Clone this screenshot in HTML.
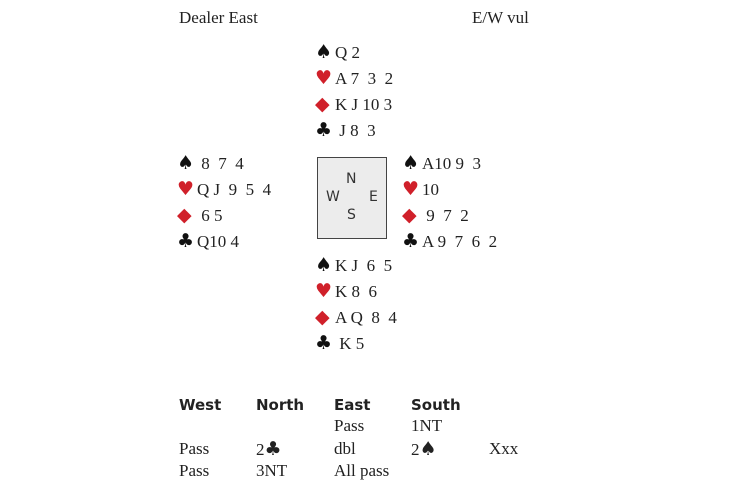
<!DOCTYPE html>
<html><head><meta charset="utf-8"><style>
body{margin:0;width:730px;height:486px;background:#fff;position:relative;font-family:"Liberation Serif",serif;font-size:17px;color:#222;overflow:hidden}
.t{position:absolute;line-height:20px;white-space:pre}
.s{display:inline-block;width:20px;font-family:"DejaVu Sans",sans-serif;font-size:19px;line-height:20px;color:#111}
.r{color:#d0202a}
.b{font-family:"DejaVu Sans",sans-serif;font-weight:bold;font-size:15px}
.box{position:absolute;left:317px;top:157px;width:68px;height:80px;background:#ececec;border:1px solid #444}
.c{position:absolute;font-family:"DejaVu Sans",sans-serif;font-size:14px;color:#333}
</style></head><body>
<div class="t" style="left:179px;top:8px">Dealer East</div>
<div class="t" style="left:472px;top:8px">E/W vul</div>

<div class="t" style="left:315px;top:42px"><span class="s">♠</span>Q 2</div>
<div class="t" style="left:315px;top:68px"><span class="s r">♥</span>A 7  3  2</div>
<div class="t" style="left:315px;top:94px"><span class="s r">◆</span>K J 10 3</div>
<div class="t" style="left:315px;top:120px"><span class="s">♣</span> J 8  3</div>

<div class="t" style="left:177px;top:153px"><span class="s">♠</span> 8  7  4</div>
<div class="t" style="left:177px;top:179px"><span class="s r">♥</span>Q J  9  5  4</div>
<div class="t" style="left:177px;top:205px"><span class="s r">◆</span> 6 5</div>
<div class="t" style="left:177px;top:231px"><span class="s">♣</span>Q10 4</div>

<div class="box"></div>
<div class="c" style="left:346px;top:171px">N</div>
<div class="c" style="left:326px;top:189px">W</div>
<div class="c" style="left:369px;top:189px">E</div>
<div class="c" style="left:347px;top:207px">S</div>

<div class="t" style="left:402px;top:153px"><span class="s">♠</span>A10 9  3</div>
<div class="t" style="left:402px;top:179px"><span class="s r">♥</span>10</div>
<div class="t" style="left:402px;top:205px"><span class="s r">◆</span> 9  7  2</div>
<div class="t" style="left:402px;top:231px"><span class="s">♣</span>A 9  7  6  2</div>

<div class="t" style="left:315px;top:255px"><span class="s">♠</span>K J  6  5</div>
<div class="t" style="left:315px;top:281px"><span class="s r">♥</span>K 8  6</div>
<div class="t" style="left:315px;top:307px"><span class="s r">◆</span>A Q  8  4</div>
<div class="t" style="left:315px;top:333px"><span class="s">♣</span> K 5</div>

<div class="t b" style="left:179px;top:395px">West</div>
<div class="t b" style="left:256px;top:395px">North</div>
<div class="t b" style="left:334px;top:395px">East</div>
<div class="t b" style="left:411px;top:395px">South</div>
<div class="t" style="left:334px;top:416px">Pass</div>
<div class="t" style="left:411px;top:416px">1NT</div>
<div class="t" style="left:179px;top:439px">Pass</div>
<div class="t" style="left:256px;top:439px">2<span style="font-family:'DejaVu Sans',sans-serif;font-size:19px">♣</span></div>
<div class="t" style="left:334px;top:439px">dbl</div>
<div class="t" style="left:411px;top:439px">2<span style="font-family:'DejaVu Sans',sans-serif;font-size:19px">♠</span></div>
<div class="t" style="left:489px;top:439px">Xxx</div>
<div class="t" style="left:179px;top:461px">Pass</div>
<div class="t" style="left:256px;top:461px">3NT</div>
<div class="t" style="left:334px;top:461px">All pass</div>
</body></html>
